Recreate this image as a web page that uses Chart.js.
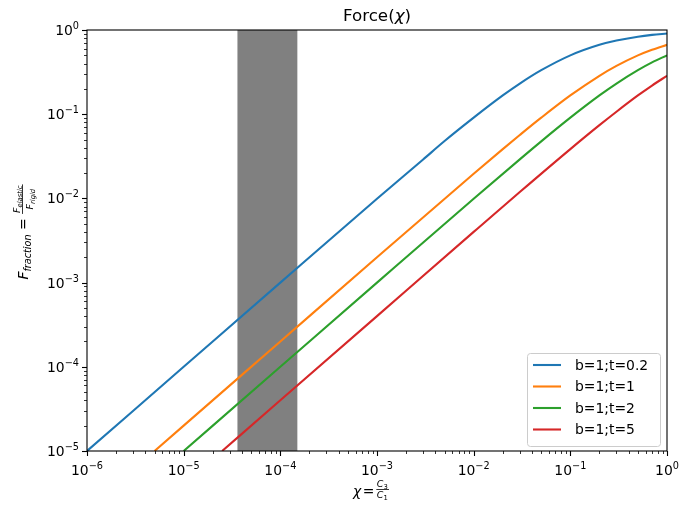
<!DOCTYPE html>
<html>
<head>
<meta charset="utf-8">
<script src="https://cdn.jsdelivr.net/npm/chart.js@4.4.1/dist/chart.umd.min.js"></script>
<style>
  html, body { margin: 0; padding: 0; background: #fff; }
  #wrap { width: 692px; height: 508px; }
</style>
</head>
<body>
<div id="wrap"><canvas id="canvas" width="692" height="508"></canvas></div>
<script>
// values (log-log)
const labels = ['b=1;t=0.2', 'b=1;t=1', 'b=1;t=2', 'b=1;t=5'];
const colors = ['#1f77b4', '#ff7f0e', '#2ca02c', '#d62728'];

const xBlue = [1e-6, 1e-5, 1e-4, 1e-3, 3e-3, 5e-3, 1e-2, 2e-2, 3e-2, 5e-2, 0.1, 0.2, 0.3, 0.5, 0.7, 1];
const yBlue = [1e-5, 1e-4, 1e-3, 0.0099, 0.029, 0.048, 0.091, 0.167, 0.231, 0.333, 0.5, 0.667, 0.75, 0.833, 0.875, 0.909];

const xOrange = [5e-6, 1e-5, 1e-4, 1e-3, 1e-2, 2e-2, 3e-2, 5e-2, 0.1, 0.2, 0.3, 0.5, 0.7, 1];
const yOrange = [1e-5, 2e-5, 2e-4, 0.002, 0.0196, 0.0385, 0.0566, 0.0909, 0.167, 0.286, 0.375, 0.5, 0.583, 0.667];

const xGreen = [1e-5, 1e-4, 1e-3, 1e-2, 3e-2, 5e-2, 0.1, 0.2, 0.3, 0.5, 0.7, 1];
const yGreen = [1e-5, 1e-4, 0.001, 0.0099, 0.0291, 0.0476, 0.0909, 0.167, 0.231, 0.333, 0.412, 0.5];

const xRed = [2.5e-5, 1e-4, 1e-3, 1e-2, 3e-2, 0.1, 0.2, 0.3, 0.5, 0.7, 1];
const yRed = [1e-5, 4e-5, 4e-4, 0.004, 0.0119, 0.0385, 0.0741, 0.107, 0.167, 0.219, 0.286];

const band = [3.6e-5, 1.5e-4];
const xTicks = [1e-6, 1e-5, 1e-4, 1e-3, 1e-2, 1e-1, 1];
const yTicks = [1e-5, 1e-4, 1e-3, 1e-2, 1e-1, 1];

const FONT = '"DejaVu Sans", sans-serif';
const BASE = 13.9;

function pts(xs, ys) {
  return xs.map((x, i) => ({ x: x, y: ys[i] }));
}

// draw a row of text pieces (different fonts / raised or lowered)
function runs(ctx, parts, x, y, align) {
  let w = 0;
  parts.forEach(p => { ctx.font = p.f; p.w = ctx.measureText(p.t).width; w += p.w + (p.gap || 0); });
  let cx = align === 'center' ? x - w / 2 : (align === 'right' ? x - w : x);
  parts.forEach(p => {
    ctx.font = p.f;
    ctx.fillText(p.t, cx, y + (p.dy || 0));
    cx += p.w + (p.gap || 0);
  });
  return w;
}

function expLabel(v) {
  const e = Math.round(Math.log10(v));
  return [
    { t: '10', f: BASE + 'px ' + FONT },
    { t: e < 0 ? '\u2212' + (-e) : String(e), f: (BASE * 0.7) + 'px ' + FONT, dy: -6 }
  ];
}

const deco = {
  id: 'deco',
  beforeDatasetsDraw(chart) {
    const ctx = chart.ctx, a = chart.chartArea, xs = chart.scales.x;
    const x0 = xs.getPixelForValue(band[0]), x1 = xs.getPixelForValue(band[1]);
    ctx.save();
    ctx.fillStyle = '#808080';
    ctx.fillRect(x0, a.top, x1 - x0, a.bottom - a.top);
    ctx.restore();
  },
  afterDraw(chart) {
    const ctx = chart.ctx, a = chart.chartArea;
    const xs = chart.scales.x, ys = chart.scales.y;
    ctx.save();
    ctx.strokeStyle = '#000';
    ctx.fillStyle = '#000';

    // ticks, major and minor
    for (let e = -6; e <= 0; e++) {
      for (let m = 1; m < 10; m++) {
        const v = m * Math.pow(10, e);
        if (v > 1.0001) break;
        const px = Math.round(xs.getPixelForValue(v)) + 0.5;
        ctx.lineWidth = m === 1 ? 1.1 : 0.8;
        ctx.beginPath();
        ctx.moveTo(px, a.bottom);
        ctx.lineTo(px, a.bottom + (m === 1 ? 5 : 3));
        ctx.stroke();
      }
    }
    for (let e = -5; e <= 0; e++) {
      for (let m = 1; m < 10; m++) {
        const v = m * Math.pow(10, e);
        if (v > 1.0001) break;
        const py = Math.round(ys.getPixelForValue(v)) + 0.5;
        ctx.lineWidth = m === 1 ? 1.1 : 0.8;
        ctx.beginPath();
        ctx.moveTo(a.left, py);
        ctx.lineTo(a.left - (m === 1 ? 5 : 3), py);
        ctx.stroke();
      }
    }

    // box
    ctx.lineWidth = 1.1;
    ctx.strokeRect(a.left, a.top, a.right - a.left, a.bottom - a.top);

    // tick labels
    ctx.textBaseline = 'alphabetic';
    xTicks.forEach(v => runs(ctx, expLabel(v), xs.getPixelForValue(v), a.bottom + 24, 'center'));
    yTicks.forEach(v => runs(ctx, expLabel(v), a.left - 8, ys.getPixelForValue(v) + 5, 'right'));

    // title
    const tf = '16.7px ' + FONT;
    runs(ctx, [
      { t: 'Force(', f: tf },
      { t: '\u03c7', f: 'italic ' + tf },
      { t: ')', f: tf }
    ], (a.left + a.right) / 2, 21, 'center');

    // x label: chi = C3 / C1
    const sf = 'italic 9.5px ' + FONT, ssf = '6.8px ' + FONT;
    let lx = 353;
    const ly = 496;
    ctx.font = 'italic ' + BASE + 'px ' + FONT;
    ctx.fillText('\u03c7', lx, ly);
    lx += ctx.measureText('\u03c7').width + 1.5;
    ctx.font = BASE + 'px ' + FONT;
    ctx.fillText('=', lx, ly);
    lx += ctx.measureText('=').width + 2;
    ctx.font = sf;
    const wFr = ctx.measureText('C').width + 5;
    ctx.lineWidth = 0.8;
    ctx.beginPath(); ctx.moveTo(lx, 489.5); ctx.lineTo(lx + wFr + 1, 489.5); ctx.stroke();
    runs(ctx, [{ t: 'C', f: sf }, { t: '3', f: ssf, dy: 2 }], lx + 0.5, 487, 'left');
    runs(ctx, [{ t: 'C', f: sf }, { t: '1', f: ssf, dy: 2 }], lx + 0.5, 497.5, 'left');

    // y label: F_fraction = F_elastic / F_rigid (rotated)
    ctx.save();
    ctx.translate(23, 232);
    ctx.rotate(-Math.PI / 2);
    const mf = 'italic ' + BASE + 'px ' + FONT;
    const subf = 'italic 9.7px ' + FONT;
    const fnf = 'italic 9.5px ' + FONT, fsf = 'italic 6.8px ' + FONT;
    ctx.font = mf; const wF = ctx.measureText('F').width;
    ctx.font = subf; const wSub = ctx.measureText('fraction').width;
    ctx.font = BASE + 'px ' + FONT; const wE = ctx.measureText(' = ').width;
    ctx.font = fnf; const wf = ctx.measureText('F').width;
    ctx.font = fsf; const wN = ctx.measureText('elastic').width;
    const wD = ctx.measureText('rigid').width;
    const wFrac = wf + Math.max(wN, wD) + 2;
    const total = wF + wSub + wE + wFrac;
    let rx = -total / 2;
    const by = 5;
    ctx.font = mf; ctx.fillText('F', rx, by); rx += wF;
    ctx.font = subf; ctx.fillText('fraction', rx, by + 3); rx += wSub;
    ctx.font = BASE + 'px ' + FONT; ctx.fillText(' = ', rx, by); rx += wE;
    ctx.lineWidth = 0.8;
    ctx.beginPath(); ctx.moveTo(rx, by - 5.5); ctx.lineTo(rx + wFrac, by - 5.5); ctx.stroke();
    runs(ctx, [{ t: 'F', f: fnf }, { t: 'elastic', f: fsf, dy: 2 }], rx + (wFrac - wf - wN) / 2, by - 8, 'left');
    runs(ctx, [{ t: 'F', f: fnf }, { t: 'rigid', f: fsf, dy: 2 }], rx + (wFrac - wf - wD) / 2, by + 5, 'left');
    ctx.restore();

    // legend
    const lg = { x: 527, y: 353, w: 133, h: 93, r: 3 };
    ctx.beginPath();
    ctx.roundRect(lg.x + 0.5, lg.y + 0.5, lg.w, lg.h, lg.r);
    ctx.fillStyle = 'rgba(255,255,255,0.8)';
    ctx.fill();
    ctx.strokeStyle = '#cccccc';
    ctx.lineWidth = 1;
    ctx.stroke();
    ctx.textBaseline = 'middle';
    ctx.font = BASE + 'px ' + FONT;
    chart.data.datasets.forEach((ds, i) => {
      const yy = 365 + i * 21.5;
      ctx.strokeStyle = ds.borderColor;
      ctx.lineWidth = 2.1;
      ctx.beginPath(); ctx.moveTo(533, yy); ctx.lineTo(561, yy); ctx.stroke();
      ctx.fillStyle = '#000';
      ctx.fillText(ds.label, 575, yy + 1);
    });
    ctx.restore();
  }
};

const series = [pts(xBlue, yBlue), pts(xOrange, yOrange), pts(xGreen, yGreen), pts(xRed, yRed)];

new Chart(document.getElementById('canvas').getContext('2d'), {
  type: 'line',
  data: {
    datasets: series.map((d, i) => ({
      label: labels[i],
      data: d,
      borderColor: colors[i],
      backgroundColor: colors[i],
      borderWidth: 2.1,
      pointRadius: 0,
      cubicInterpolationMode: 'monotone'
    }))
  },
  options: {
    responsive: false,
    animation: false,
    layout: { padding: { top: 30, right: 25, left: 0, bottom: 0 } },
    plugins: { legend: { display: false }, title: { display: false }, tooltip: { enabled: false } },
    scales: {
      x: {
        type: 'logarithmic', min: 1e-6, max: 1,
        grid: { display: false }, border: { display: false },
        ticks: { display: false },
        afterFit: s => { s.height = 57; }
      },
      y: {
        type: 'logarithmic', min: 1e-5, max: 1,
        grid: { display: false }, border: { display: false },
        ticks: { display: false },
        afterFit: s => { s.height; s.width = 87; }
      }
    }
  },
  plugins: [deco]
});
</script>
</body>
</html>
